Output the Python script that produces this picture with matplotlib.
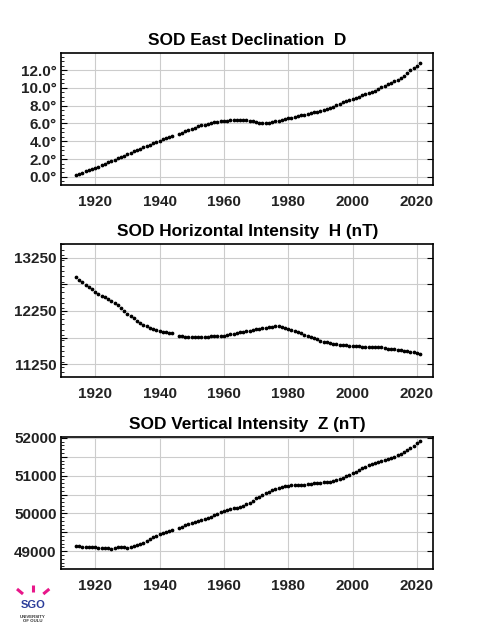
import matplotlib
matplotlib.use('Agg')
import matplotlib.pyplot as plt
from matplotlib.ticker import MultipleLocator, FixedLocator, FuncFormatter
from matplotlib.lines import Line2D

plt.rcParams['font.family'] = ['Liberation Sans', 'DejaVu Sans']

# yearly means, no value for 1945
years = list(range(1914, 1945)) + list(range(1946, 2022))

decl = [0.19, 0.33, 0.48, 0.62, 0.76, 0.88, 1.01, 1.15, 1.31, 1.47, 1.63, 1.79, 1.95, 2.10, 2.25, 2.40,
        2.55, 2.70, 2.86, 3.02, 3.18, 3.33, 3.49, 3.64, 3.80, 3.95, 4.08, 4.22, 4.36, 4.49, 4.61,
        4.83, 4.98, 5.13, 5.28, 5.43, 5.55, 5.67, 5.78, 5.88, 5.96, 6.05, 6.12, 6.18, 6.24, 6.29,
        6.32, 6.35, 6.38, 6.40, 6.40, 6.39, 6.37, 6.33, 6.25, 6.16, 6.10, 6.07, 6.07, 6.10, 6.15,
        6.23, 6.32, 6.41, 6.50, 6.59, 6.67, 6.75, 6.83, 6.90, 6.97, 7.06, 7.15, 7.24, 7.33, 7.42,
        7.51, 7.61, 7.72, 7.90, 8.09, 8.23, 8.36, 8.50, 8.63, 8.76, 8.89, 9.02, 9.15, 9.27, 9.40,
        9.55, 9.70, 9.85, 10.05, 10.26, 10.42, 10.58, 10.75, 10.92, 11.09, 11.35, 11.65, 11.95,
        12.22, 12.48, 12.78]

horiz = [12886, 12840, 12792, 12745, 12697, 12655, 12614, 12577, 12539, 12505, 12472, 12439, 12397,
         12355, 12312, 12250, 12193, 12150, 12112, 12070, 12028, 11986, 11960, 11935, 11910, 11893,
         11878, 11862, 11848, 11838, 11829,
         11784, 11774, 11765, 11759, 11754, 11752, 11754, 11758, 11762, 11765, 11770, 11774, 11778,
         11781, 11784, 11797, 11810, 11825, 11840, 11854, 11862, 11868, 11878, 11892, 11905, 11915,
         11925, 11935, 11942, 11948, 11958, 11967, 11955, 11935, 11916, 11897, 11878, 11860, 11830,
         11803, 11782, 11762, 11741, 11715, 11690, 11675, 11660, 11646, 11636, 11627, 11618, 11610,
         11603, 11599, 11595, 11589, 11583, 11577, 11573, 11571, 11573, 11575, 11577, 11565, 11552,
         11543, 11535, 11527, 11518, 11508, 11499, 11490, 11482, 11470, 11452, 11433]

vert = [49147, 49125, 49113, 49108, 49105, 49104, 49105, 49092, 49079, 49078, 49079, 49070, 49095,
        49121, 49121, 49100, 49087, 49110, 49139, 49165, 49195, 49226, 49275, 49325, 49376, 49415,
        49455, 49486, 49516, 49538, 49560,
        49621, 49652, 49683, 49710, 49736, 49762, 49788, 49815, 49840, 49868, 49908, 49948, 49989,
        50025, 50060, 50084, 50108, 50131, 50148, 50165, 50200, 50240, 50278, 50340, 50402, 50448,
        50495, 50541, 50580, 50620, 50650, 50680, 50709, 50723, 50736, 50742, 50748, 50752, 50752,
        50752, 50766, 50781, 50796, 50806, 50815, 50820, 50826, 50831, 50855, 50883, 50915, 50948,
        50980, 51020, 51059, 51103, 51147, 51191, 51230, 51270, 51299, 51328, 51357, 51383, 51410,
        51442, 51474, 51506, 51537, 51567, 51615, 51670, 51725, 51790, 51856, 51927]

h_ticks = [11250, 11750, 12250, 12750, 13250]
h_labels = [11250, 12250, 13250]
z_ticks = [49000, 49500, 50000, 50500, 51000, 51500, 52000]
z_labels = [49000, 50000, 51000, 52000]

fig = plt.figure(figsize=(4.8, 6.4), dpi=100)

panels = [
    ([0.128, 0.711, 0.774, 0.206], decl, 'SOD East Declination  D', (-0.9, 13.9)),
    ([0.128, 0.411, 0.774, 0.208], horiz, 'SOD Horizontal Intensity  H (nT)', (11010, 13510)),
    ([0.128, 0.111, 0.774, 0.206], vert, 'SOD Vertical Intensity  Z (nT)', (48530, 52020)),
]

for i, (pos, vals, title, ylim) in enumerate(panels):
    ax = fig.add_axes(pos)
    ax.plot(years, vals, 'o', ms=1.7, color='black', mec='black')
    ax.set_xlim(1909.5, 2025)
    ax.set_ylim(*ylim)
    ax.set_title(title, fontsize=12.4, fontweight='bold', pad=6)
    ax.xaxis.set_major_locator(MultipleLocator(20))
    if i == 0:
        ax.yaxis.set_major_locator(MultipleLocator(2))
        ax.yaxis.set_minor_locator(MultipleLocator(0.5))
        ax.yaxis.set_major_formatter(FuncFormatter(lambda v, p: '%.1f°' % v))
    else:
        ticks, labelled = (h_ticks, h_labels) if i == 1 else (z_ticks, z_labels)
        ax.yaxis.set_major_locator(FixedLocator(ticks))
        ax.yaxis.set_minor_locator(MultipleLocator(100))
        ax.yaxis.set_major_formatter(FuncFormatter(
            lambda v, p, lab=labelled: '%d' % v if round(v) in lab else ''))
    ax.grid(True, which='major', color='#cccccc', lw=0.8)
    ax.tick_params(axis='both', which='both', direction='in', right=True, top=False)
    ax.tick_params(axis='y', which='major', length=4, width=0.8)
    ax.tick_params(axis='y', which='minor', length=2, width=0.6, right=False)
    ax.tick_params(axis='x', which='major', length=0, pad=7)
    ax.tick_params(axis='both', labelsize=11, labelcolor='#222222')
    for lab in ax.get_xticklabels() + ax.get_yticklabels():
        lab.set_fontweight('bold')
    for sp in ax.spines.values():
        sp.set_linewidth(1.2)

# SGO logo, bottom left
pink = '#e8178a'
for (x0, y0, x1, y1) in [(17, 589, 23, 594), (32.7, 584.5, 32.7, 591.5), (49.3, 589, 43.3, 594)]:
    fig.add_artist(Line2D([x0 / 480, x1 / 480], [1 - y0 / 640, 1 - y1 / 640],
                          color=pink, lw=2.2, solid_capstyle='butt'))
fig.text(33 / 480, 1 - 605 / 640, 'SGO', color='#2b3d9a', fontsize=8, fontweight='bold',
         ha='center', va='center')
fig.text(33 / 480, 1 - 617.5 / 640, 'UNIVERSITY', color='#333333', fontsize=3.2,
         fontweight='bold', ha='center', va='center')
fig.text(33 / 480, 1 - 621.5 / 640, 'OF OULU', color='#333333', fontsize=3.2,
         fontweight='bold', ha='center', va='center')

fig.savefig('out.png', dpi=100)
